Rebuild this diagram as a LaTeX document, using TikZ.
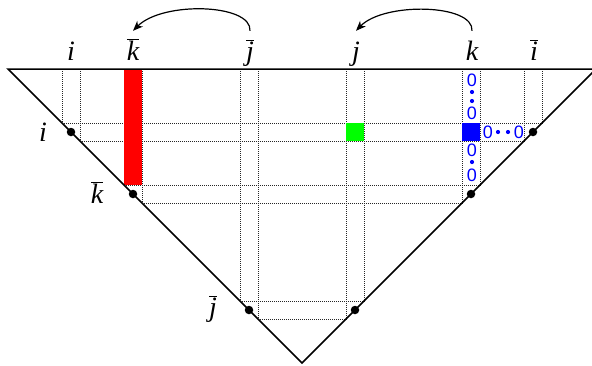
\documentclass[tikz,border=0pt]{standalone}
\usepackage{fontspec}
\setmainfont{Liberation Serif}
\newfontfamily\zerofont{Liberation Sans}
\usetikzlibrary{arrows.meta}
\newcommand{\barlab}[1]{$\overline{\mbox{\itshape #1}}$}
\definecolor{pgreen}{RGB}{0,255,0}
\definecolor{pred}{RGB}{255,0,0}
\definecolor{pblue}{RGB}{0,0,255}
\begin{document}
\begin{tikzpicture}[x=1pt,y=-1pt,
  gridline/.style={line width=0.5pt, dash pattern=on 1pt off 1pt, black!85},
  edge/.style={line width=1.5pt, line join=miter},
  dotnode/.style={circle, fill=black, inner sep=0pt, minimum size=8.5pt},
  lab/.style={font=\fontsize{28}{28}\selectfont\itshape, inner sep=0pt, inner ysep=2pt, text height=27pt, anchor=base},
  zero/.style={font=\zerofont\fontsize{18}{18}\selectfont, text=pblue, inner sep=0pt},
  bdot/.style={circle, fill=pblue, inner sep=0pt, minimum size=4.2pt},
  jump/.style={-{Stealth[length=10pt,width=8pt,inset=3pt]}, line width=1.2pt},
  cell/.style={inner sep=0pt, minimum size=17.5pt, draw=none}
]
\useasboundingbox (0,0) rectangle (592,365);
\clip (0,0) rectangle (592,365);
\def\h{8.75}
% grid lines
\foreach \c in {71,133,249}{
  \draw[gridline] ({\c-\h},{\c+61-\h}) -- ({604-\c+\h},{\c+61-\h});
  \draw[gridline] ({\c+\h},{\c+61+\h}) -- ({604-\c-\h},{\c+61+\h});
  \draw[gridline] ({\c-\h},69) -- ({\c-\h},{\c+61-\h});
  \draw[gridline] ({\c+\h},69) -- ({\c+\h},{\c+61+\h});
  \draw[gridline] ({604-\c-\h},69) -- ({604-\c-\h},{\c+61+\h});
  \draw[gridline] ({604-\c+\h},69) -- ({604-\c+\h},{\c+61-\h});
}
% coloured cells
\fill[pred] ({133-\h},69) rectangle ({133+\h},{194-\h});
\node[cell, fill=pgreen] (g) at (355,132) {};
\node[cell, fill=pblue] (b) at (471,132) {};
% triangle
\draw[edge] (8,69) -- (596,69) -- (302,363) -- cycle;
% dots
\node[dotnode] (dli) at (71,132) {};
\node[dotnode] (dlk) at (133,194) {};
\node[dotnode] (dlj) at (249,310) {};
\node[dotnode] (dri) at (533,132) {};
\node[dotnode] (drk) at (471,194) {};
\node[dotnode] (drj) at (355,310) {};
% top labels
\node[lab] (ti) at (71,60) {i};
\node[lab] (tkb) at (133,60) {\barlab{k}};
\node[lab] (tjb) at (250,60) {\barlab{j}};
\node[lab] (tj) at (356,60) {j};
\node[lab] (tk) at (472,60) {k};
\node[lab] (tib) at (534,60) {\barlab{i}};
% left labels
\node[lab] (li) at (43,141) {i};
\node[lab] (lkb) at (97,203) {\barlab{k}};
\node[lab] (ljb) at (213,316) {\barlab{j}};
% arrows
\draw[jump] (tjb.north) .. controls +(2,-27) and +(30,-30) .. (tkb.north);
\draw[jump] (tk.north) .. controls +(2,-27) and +(28,-29) .. (tj.north);
% zeros
\node[zero] (z1) at (472,80) {0};
\node[bdot] (d1) at (472,92) {};
\node[bdot] (d2) at (472,101) {};
\node[zero] (z2) at (472,113) {0};
\node[zero] (z3) at (472,150) {0};
\node[bdot] (d3) at (472,162) {};
\node[zero] (z4) at (472,175) {0};
\node[zero] (z5) at (488,132) {0};
\node[bdot] (d4) at (498,132) {};
\node[bdot] (d5) at (508,132) {};
\node[zero] (z6) at (519,132) {0};
\end{tikzpicture}
\end{document}
